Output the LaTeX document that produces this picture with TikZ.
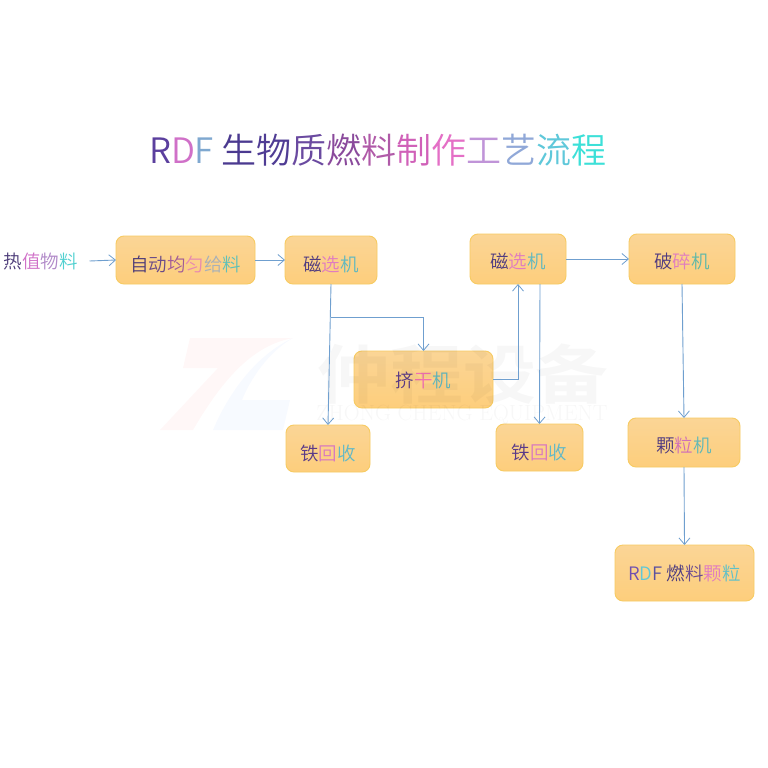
\documentclass[tikz,border=0pt]{standalone}
\usepackage{fontspec}
\usetikzlibrary{arrows.meta}
\newfontfamily\cjk[UprightFont={* DemiLight},BoldFont={* Bold}]{Noto Sans CJK SC}
\newcommand\cc[2]{\textcolor[HTML]{#1}{#2}}
\newcommand\lift[2]{\smash{\raisebox{-\dimexpr#1pt+6.6pt\relax}{#2}}}
\tikzset{
  procbox/.style={draw=boxline,line width=0.9pt,rounded corners=8pt,top color=boxtop,bottom color=boxbot,
    inner sep=0pt,outer sep=0pt,font=\cjk\fontsize{18.5}{20}\selectfont},
  flow/.style={draw=flowblue,line width=0.9pt,-{Straight Barb[length=6.5pt,width=11pt,line width=0.8pt]}},
}
\definecolor{boxline}{HTML}{F7CB62}
\definecolor{boxtop}{HTML}{FBD596}
\definecolor{boxbot}{HTML}{FDCE7C}
\definecolor{flowblue}{HTML}{6F9FCF}
\begin{document}
\begin{tikzpicture}[x=1pt,y=-1pt]
\useasboundingbox[fill=white] (0,0) rectangle (768,768);
% title
\node[inner sep=0pt,font=\cjk\fontsize{35}{38}\selectfont] (title) at (378,150) {%
\cc{5B3F9E}{R}\cc{D070C8}{D}\cc{7FA8D0}{F} \cc{4B3A90}{生}\cc{4F3C94}{物}\cc{6A4AA0}{质}\cc{8A4A9C}{燃}\cc{B05AA8}{料}\cc{D060B8}{制}\cc{E46FC6}{作}\cc{C094D8}{工}\cc{90A8D8}{艺}\cc{5FC8DA}{流}\cc{3CE0D8}{程}};
% process boxes
\node[procbox,minimum width=139pt,minimum height=48pt] (feed) at (185.5,260) {\lift{5}{\cc{4B3A78}{自}\cc{6A4A88}{动}\cc{A05A98}{均}\cc{E88AB0}{匀}\cc{A8B0B8}{给}\cc{60C0B8}{料}}};
\node[procbox,minimum width=92pt,minimum height=48pt] (magone) at (331,260) {\lift{5}{\cc{4F3A80}{磁}\cc{E07CC0}{选}\cc{60B8C0}{机}}};
\node[procbox,minimum width=139pt,minimum height=57pt] (squeeze) at (423.5,379.5) {\lift{1.5}{\cc{5A3A88}{挤}\cc{F070B0}{干}\cc{60B8C0}{机}}};
\node[procbox,minimum width=84pt,minimum height=47pt] (feone) at (328,448.5) {\lift{5.5}{\cc{5A3A88}{铁}\cc{D878C0}{回}\cc{60B8C8}{收}}};
\node[procbox,minimum width=96pt,minimum height=50pt] (magtwo) at (518,259) {\lift{3}{\cc{4F3A80}{磁}\cc{E07CC0}{选}\cc{60B8C0}{机}}};
\node[procbox,minimum width=106pt,minimum height=50pt] (crush) at (682,259) {\lift{3}{\cc{4F3A80}{破}\cc{E07CC0}{碎}\cc{60B8A8}{机}}};
\node[procbox,minimum width=87pt,minimum height=47pt] (fetwo) at (539.5,447.5) {\lift{5.5}{\cc{5A3A88}{铁}\cc{D878C0}{回}\cc{60B8C8}{收}}};
\node[procbox,minimum width=112pt,minimum height=49pt] (gran) at (684,442.5) {\lift{3.5}{\cc{4F3A80}{颗}\cc{D070B8}{粒}\cc{60B8B8}{机}}};
\node[procbox,minimum width=139pt,minimum height=56pt] (rdf) at (684.5,573) {\lift{1}{\cc{7050B0}{R}\cc{60C8D8}{D}\cc{5A50A0}{F} \cc{4B3A80}{燃}\cc{6A4A90}{料}\cc{E07CC0}{颗}\cc{60C0C8}{粒}}};
% watermark
\begin{scope}[opacity=0.03]
\fill[red!80!orange] (190,338) -- (293,338) .. controls (255,345) and (225,375) .. (193,430) -- (160,430) -- (218,368) -- (183,368) -- cycle;
\fill[blue!60!cyan] (293,338) .. controls (262,352) and (232,385) .. (213,430) -- (283,430) -- (290,400) -- (242,400) .. controls (250,380) and (268,352) .. (293,338) -- cycle;
\node[font=\cjk\bfseries\fontsize{64}{66}\selectfont,inner sep=0pt] (markcn) at (463,374) {\scalebox{1.14}[1]{仲程设备}};
\node[font=\rmfamily\fontsize{22}{23}\selectfont,inner sep=0pt] (marken) at (462,415) {ZHONG CHENG EQUIPMENT};
\end{scope}
% input
\node[inner sep=0pt,outer xsep=12pt,font=\cjk\fontsize{18.5}{20}\selectfont] (input) at (40.5,261) {\cc{4B3A78}{热}\cc{D070C8}{值}\cc{B088C8}{物}\cc{50D0D0}{料}};
% connectors
\draw[flow] (input.east) -- (feed.west);
\draw[flow] (feed.east) -- (magone.west);
\draw[flow] (magone.south) -- (feone.north);
\coordinate (branch) at (magone.south |- 0,317);
\draw[flow] (branch) -| (squeeze.north);
\draw[flow] (squeeze.east) -| (magtwo.south);
\draw[flow] ([xshift=22pt]magtwo.south) -- (fetwo.north);
\draw[flow] (magtwo.east) -- (crush.west);
\draw[flow] (crush.south) -- (gran.north);
\draw[flow] (gran.south) -- (rdf.north);
\end{tikzpicture}
\end{document}
